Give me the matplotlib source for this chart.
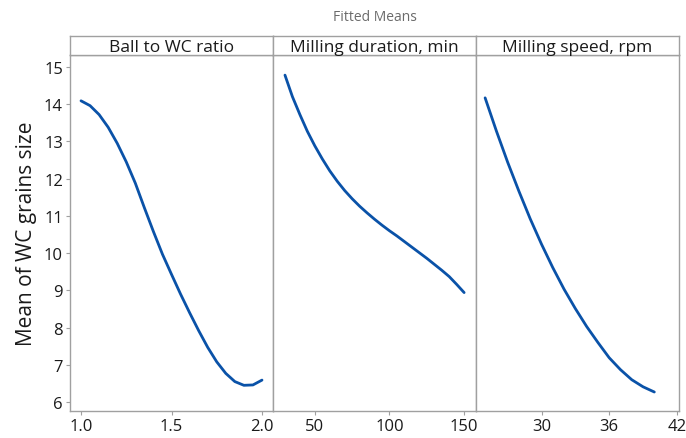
import matplotlib
matplotlib.use("Agg")
import matplotlib.pyplot as plt

# fitted means for each factor
ratio = [1.0, 1.05, 1.1, 1.15, 1.2, 1.25, 1.3, 1.35, 1.4, 1.45, 1.5,
         1.55, 1.6, 1.65, 1.7, 1.75, 1.8, 1.85, 1.9, 1.95, 2.0]
ratio_mean = [14.09, 13.96, 13.72, 13.38, 12.95, 12.45, 11.88, 11.22, 10.58, 9.97, 9.43,
              8.9, 8.4, 7.92, 7.47, 7.08, 6.77, 6.55, 6.45, 6.46, 6.59]

duration = [30, 35, 40, 45, 50, 55, 60, 65, 70, 75, 80, 85, 90, 95,
            100, 105, 110, 115, 120, 125, 130, 135, 140, 145, 150]
duration_mean = [14.78, 14.2, 13.72, 13.27, 12.88, 12.53, 12.21, 11.93, 11.68, 11.46, 11.26, 11.08, 10.91, 10.75,
                 10.6, 10.46, 10.31, 10.16, 10.01, 9.86, 9.7, 9.54, 9.37, 9.16, 8.94]

speed = [25, 26, 27, 28, 29, 30, 31, 32, 33, 34, 35, 36, 37, 38, 39, 40]
speed_mean = [14.17, 13.28, 12.44, 11.66, 10.92, 10.24, 9.61, 9.03, 8.51, 8.03, 7.6, 7.19, 6.87, 6.6, 6.41, 6.27]

titles = ["Ball to WC ratio", "Milling duration, min", "Milling speed, rpm"]
xticks = [[1.0, 1.5, 2.0], [50, 100, 150], [30, 36, 42]]
xtick_labels = [["1.0", "1.5", "2.0"], ["50", "100", "150"], ["30", "36", "42"]]
xlims = [(0.939, 2.061), (22, 158), (24.2, 42.2)]
yticks = [6, 7, 8, 9, 10, 11, 12, 13, 14, 15]

plt.rcParams["font.family"] = ["Open Sans", "DejaVu Sans"]

gray = "#a0a0a0"
blue = "#0a52a8"
ink = "#1a1a1a"

fig = plt.figure(figsize=(6.86, 4.39), dpi=100)
fig.text(0.546, 0.961, "Fitted Means", ha="center", va="center", fontsize=10, color="#6b6b6b")

left, bottom, top = 0.102, 0.0615, 0.8724
width = (0.990 - left) / 3
strip_h = 0.0433

series = [(ratio, ratio_mean), (duration, duration_mean), (speed, speed_mean)]
for i, (xs, ys) in enumerate(series):
    ax = fig.add_axes([left + i * width, bottom, width, top - bottom])
    ax.plot(xs, ys, color=blue, lw=2.0, solid_capstyle="round")
    ax.set_xlim(*xlims[i])
    ax.set_ylim(5.76, 15.32)
    ax.set_xticks(xticks[i])
    ax.set_xticklabels(xtick_labels[i])
    ax.set_yticks(yticks)
    for s in ax.spines.values():
        s.set_color(gray)
        s.set_linewidth(1.0)
    ax.tick_params(axis="both", colors=gray, labelcolor=ink,
                   labelsize=12, length=3, width=0.8, direction="out", pad=2)
    if i > 0:
        ax.tick_params(axis="y", left=False, labelleft=False)
    else:
        ax.set_ylabel("Mean of WC grains size", fontsize=15, color=ink, labelpad=5)

    strip = fig.add_axes([left + i * width, top, width, strip_h])
    strip.set_xticks([])
    strip.set_yticks([])
    for s in strip.spines.values():
        s.set_color(gray)
        s.set_linewidth(1.0)
    strip.text(0.5, 0.42, titles[i], transform=strip.transAxes,
               ha="center", va="center", fontsize=12.5, color=ink)

fig.savefig("out.png", dpi=100)
